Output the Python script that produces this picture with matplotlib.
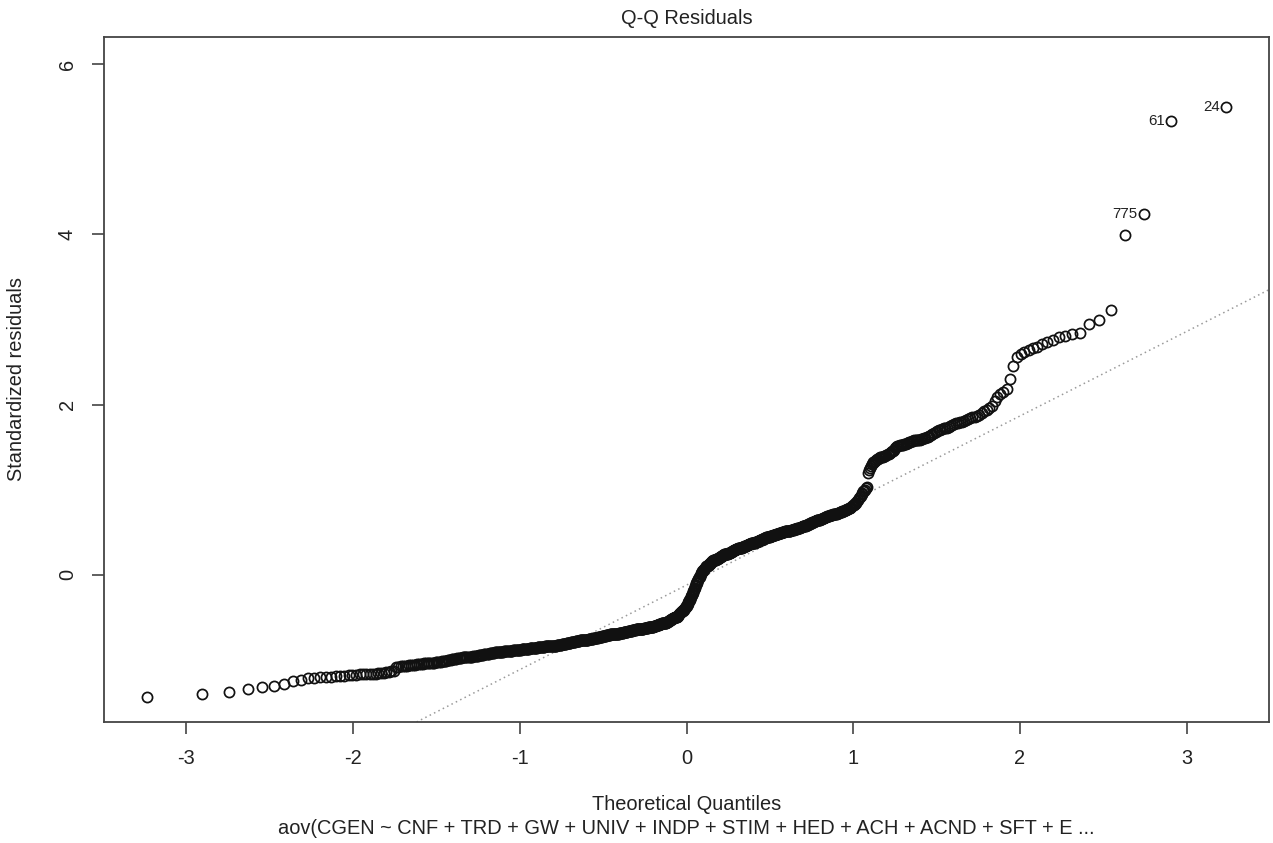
import numpy as np
import matplotlib
matplotlib.use("Agg")
import matplotlib.pyplot as plt
from statistics import NormalDist

plt.rcParams['font.family'] = ['Liberation Sans', 'DejaVu Sans']
plt.rcParams['axes.unicode_minus'] = False

# ---- sorted standardized residuals (lowest to highest) ----
seg_a = [-1.43, -1.40, -1.37, -1.34, -1.32, -1.30, -1.28, -1.25, -1.23]
seg_b = [-1.21, -1.21, -1.20, -1.20, -1.20, -1.19, -1.19, -1.19, -1.18, -1.18, -1.18, -1.17,
         -1.17, -1.17, -1.16, -1.16, -1.16, -1.15, -1.15, -1.15, -1.14, -1.14, -1.13, -1.13]
seg_c = [-1.08, -1.08, -1.07, -1.07, -1.07, -1.07, -1.06, -1.06, -1.06, -1.06, -1.05, -1.05,
         -1.05, -1.05, -1.04, -1.04, -1.04, -1.03, -1.03, -1.03, -1.03, -1.02, -1.02, -1.02,
         -1.02, -1.01, -1.01, -1.01, -1.01, -1.00, -1.00, -1.00, -0.99, -0.99, -0.99, -0.99,
         -0.98, -0.98, -0.98, -0.98, -0.97, -0.97, -0.97, -0.97, -0.96, -0.96, -0.96]
seg_d = [-0.96, -0.96, -0.95, -0.95, -0.95, -0.95, -0.95, -0.94, -0.94, -0.94, -0.94, -0.94,
         -0.93, -0.93, -0.93, -0.93, -0.93, -0.92, -0.92, -0.92, -0.92, -0.92, -0.91, -0.91,
         -0.91, -0.91, -0.91, -0.90, -0.90, -0.90, -0.90, -0.90]
seg_e = [-0.89, -0.89, -0.89, -0.89, -0.89, -0.89, -0.89, -0.89, -0.89, -0.89,
         -0.88, -0.88, -0.88, -0.88, -0.88, -0.88, -0.88, -0.88, -0.88, -0.88,
         -0.87, -0.87, -0.87, -0.87, -0.87, -0.87, -0.87, -0.87, -0.87, -0.87,
         -0.86, -0.86, -0.86, -0.86, -0.86, -0.86, -0.86, -0.86, -0.86, -0.86,
         -0.85, -0.85, -0.85, -0.85, -0.85, -0.85, -0.85, -0.85, -0.85, -0.85,
         -0.84, -0.84, -0.84, -0.84, -0.84, -0.84, -0.84, -0.84, -0.84, -0.84]
seg_f = [-0.83, -0.83, -0.83, -0.83, -0.83, -0.83, -0.83,
         -0.82, -0.82, -0.82, -0.82, -0.82, -0.82, -0.82,
         -0.81, -0.81, -0.81, -0.81, -0.81, -0.81, -0.81,
         -0.80, -0.80, -0.80, -0.80, -0.80, -0.80, -0.80,
         -0.79, -0.79, -0.79, -0.79, -0.79, -0.79, -0.79,
         -0.78, -0.78, -0.78, -0.78, -0.78, -0.78, -0.78,
         -0.77, -0.77, -0.77, -0.77, -0.77, -0.77, -0.77,
         -0.76, -0.76, -0.76, -0.76, -0.76, -0.76, -0.76,
         -0.75, -0.75, -0.75, -0.75, -0.75, -0.75, -0.75, -0.75,
         -0.74, -0.74, -0.74, -0.74, -0.74, -0.74, -0.74, -0.74,
         -0.73, -0.73, -0.73, -0.73, -0.73, -0.73, -0.73]
seg_g = [-0.72, -0.72, -0.72, -0.72, -0.72, -0.72, -0.72,
         -0.71, -0.71, -0.71, -0.71, -0.71, -0.71, -0.71,
         -0.70, -0.70, -0.70, -0.70, -0.70, -0.70, -0.70, -0.70,
         -0.69, -0.69, -0.69, -0.69, -0.69, -0.69, -0.69, -0.69,
         -0.68, -0.68, -0.68, -0.68, -0.68, -0.68, -0.68, -0.68,
         -0.67, -0.67, -0.67, -0.67, -0.67, -0.67, -0.67, -0.67,
         -0.66, -0.66, -0.66, -0.66, -0.66, -0.66, -0.66, -0.66,
         -0.65, -0.65, -0.65, -0.65, -0.65, -0.65, -0.65,
         -0.64, -0.64, -0.64, -0.64, -0.64, -0.64, -0.64,
         -0.63, -0.63, -0.63, -0.63, -0.63, -0.63, -0.63, -0.63,
         -0.62, -0.62, -0.62, -0.62, -0.62, -0.62, -0.62, -0.62,
         -0.61, -0.61, -0.61, -0.61, -0.61, -0.61, -0.61]
seg_h = [-0.61, -0.61, -0.61, -0.61, -0.60, -0.60, -0.60, -0.60, -0.60,
         -0.59, -0.59, -0.59, -0.59, -0.59, -0.58, -0.58, -0.58, -0.58, -0.58,
         -0.57, -0.57, -0.57, -0.57, -0.57, -0.56, -0.56, -0.56, -0.56, -0.56,
         -0.55, -0.55, -0.55, -0.54, -0.54, -0.54, -0.53, -0.53, -0.53,
         -0.52, -0.52, -0.52, -0.51, -0.51, -0.51, -0.50, -0.50, -0.50,
         -0.49, -0.49, -0.49, -0.48, -0.48]
seg_i = [-0.46, -0.46, -0.45, -0.45, -0.44, -0.44, -0.43, -0.42, -0.42, -0.41, -0.41, -0.40,
         -0.39, -0.39, -0.38, -0.37, -0.36, -0.35, -0.34, -0.32, -0.31, -0.30, -0.29, -0.28,
         -0.26, -0.25, -0.24, -0.22, -0.21, -0.19, -0.18, -0.16, -0.15, -0.13, -0.12, -0.10,
         -0.09, -0.07, -0.06, -0.05, -0.03, -0.02, -0.01, 0.01, 0.02, 0.03]
seg_j = [0.04, 0.05, 0.06, 0.06, 0.07, 0.08, 0.08, 0.09, 0.10, 0.10, 0.11, 0.11, 0.12, 0.12,
         0.13, 0.13, 0.14, 0.14, 0.15,
         0.16, 0.16, 0.16, 0.17, 0.17, 0.17, 0.18, 0.18, 0.18, 0.19, 0.19, 0.19,
         0.20, 0.20, 0.20, 0.21, 0.21, 0.21, 0.22, 0.22, 0.22, 0.23, 0.23, 0.23,
         0.24, 0.24, 0.24, 0.24, 0.25, 0.25, 0.25, 0.25, 0.26, 0.26, 0.26, 0.26,
         0.27, 0.27, 0.27, 0.28, 0.28, 0.28]
seg_k = [0.29, 0.29, 0.29, 0.29, 0.30, 0.30, 0.30, 0.30, 0.31, 0.31, 0.31, 0.31,
         0.32, 0.32, 0.32, 0.32, 0.33, 0.33, 0.33, 0.33, 0.34, 0.34, 0.34, 0.34,
         0.35, 0.35, 0.35, 0.35, 0.36, 0.36, 0.36, 0.36, 0.37, 0.37, 0.37, 0.37,
         0.38, 0.38, 0.38, 0.38, 0.39, 0.39, 0.39, 0.39, 0.40, 0.40, 0.40, 0.40,
         0.41, 0.41, 0.41, 0.41, 0.42, 0.42, 0.42, 0.42, 0.43, 0.43, 0.43, 0.44, 0.44]
seg_l = [0.45, 0.45, 0.45, 0.45, 0.45, 0.46, 0.46, 0.46, 0.46, 0.46,
         0.47, 0.47, 0.47, 0.47, 0.47, 0.48, 0.48, 0.48, 0.48, 0.48,
         0.49, 0.49, 0.49, 0.49, 0.49, 0.50, 0.50, 0.50, 0.50, 0.50,
         0.51, 0.51, 0.51, 0.51, 0.51, 0.52, 0.52, 0.52, 0.52, 0.52,
         0.53, 0.53, 0.53, 0.53, 0.53, 0.54, 0.54, 0.54, 0.54, 0.54,
         0.55, 0.55, 0.55, 0.55, 0.55]
seg_m = [0.56, 0.56, 0.56, 0.57, 0.57, 0.57, 0.58, 0.58, 0.58, 0.59, 0.59, 0.59,
         0.60, 0.60, 0.60, 0.61, 0.61, 0.61, 0.62, 0.62, 0.62, 0.63, 0.63, 0.63,
         0.64, 0.64, 0.64, 0.65, 0.65, 0.65, 0.66, 0.66, 0.66, 0.67, 0.67, 0.67,
         0.68, 0.68, 0.68, 0.69, 0.69, 0.69, 0.69, 0.70, 0.70, 0.70, 0.70]
seg_n = [0.71, 0.71, 0.71, 0.72, 0.72, 0.72, 0.73, 0.73, 0.73, 0.74, 0.74, 0.74,
         0.75, 0.75, 0.75, 0.76, 0.76, 0.76, 0.77, 0.77, 0.78, 0.78,
         0.79, 0.80, 0.81, 0.82, 0.82, 0.83, 0.84, 0.85, 0.87, 0.88, 0.90, 0.92, 0.93, 0.95,
         0.96, 0.98, 0.99, 1.00, 1.02, 1.03]
seg_o = [1.20, 1.23, 1.26, 1.28, 1.30, 1.31, 1.32, 1.33, 1.34, 1.35,
         1.36, 1.36, 1.37, 1.38, 1.38, 1.39, 1.39, 1.40, 1.40, 1.41, 1.42, 1.42, 1.43,
         1.44, 1.45, 1.46, 1.47, 1.49, 1.50,
         1.51, 1.51, 1.52, 1.52, 1.53, 1.53, 1.54, 1.54, 1.55, 1.55, 1.56, 1.56, 1.57, 1.57,
         1.58, 1.58, 1.58, 1.59, 1.59, 1.60, 1.60, 1.61, 1.61, 1.62, 1.62,
         1.63, 1.64, 1.65, 1.67, 1.68, 1.69, 1.70, 1.70, 1.71, 1.72, 1.73, 1.73, 1.74,
         1.75, 1.76, 1.77, 1.78, 1.78, 1.79, 1.80, 1.81, 1.82,
         1.83, 1.84, 1.85, 1.86, 1.87, 1.88, 1.90]
seg_tail = [1.92, 1.94, 1.96, 1.98, 2.04, 2.09, 2.12, 2.15, 2.18, 2.30, 2.45, 2.56, 2.60,
            2.62, 2.64, 2.66, 2.68, 2.71, 2.73, 2.76, 2.79, 2.81, 2.83, 2.84, 2.95, 2.99,
            3.11, 3.99, 4.24, 5.33, 5.50]

# labels of the three most extreme residuals (ordered from largest |residual| down)
extreme_labels = ["24", "61", "775"]

title_text = "Q-Q Residuals"
xlabel_text = "Theoretical Quantiles"
ylabel_text = "Standardized residuals"
sub_text = "aov(CGEN ~ CNF + TRD + GW + UNIV + INDP + STIM + HED + ACH + ACND + SFT + E ..."
x_ticks = [-3, -2, -1, 0, 1, 2, 3]
y_ticks = [0, 2, 4, 6]

residuals = np.array(seg_a + seg_b + seg_c + seg_d + seg_e + seg_f + seg_g + seg_h +
                     seg_i + seg_j + seg_k + seg_l + seg_m + seg_n + seg_o + seg_tail)
n = len(residuals)
nd = NormalDist()
theo = np.array([nd.inv_cdf((i - 0.5) / n) for i in range(1, n + 1)])

W, H = 1273, 843
fig = plt.figure(figsize=(W / 100, H / 100), dpi=100)
ax = fig.add_axes([104 / W, 1 - 722 / H, (1269 - 104) / W, (722 - 37) / H])

# R-style limits
xr = [theo.min(), theo.max()]
dx = xr[1] - xr[0]
ax.set_xlim(xr[0] - 0.04 * dx, xr[1] + 0.04 * dx)
yr = [residuals.min(), residuals.max()]
yr[1] += 0.075 * (yr[1] - yr[0])
dy = yr[1] - yr[0]
ax.set_ylim(yr[0] - 0.04 * dy, yr[1] + 0.04 * dy)

ax.plot(theo, residuals, 'o', mfc='none', mec='#111111', ms=7.3, mew=1.25, zorder=3)

# qqline through quartiles
yq = np.quantile(residuals, [0.25, 0.75])
xq = np.array([nd.inv_cdf(0.25), nd.inv_cdf(0.75)])
slope = (yq[1] - yq[0]) / (xq[1] - xq[0])
icpt = yq[0] - slope * xq[0]
ax.axline((0, icpt), slope=slope, color='#9a9a9a', lw=1.1, ls=(0, (1, 2.2)), zorder=2)

# identify extreme points
order = np.argsort(-np.abs(residuals))[:3]
for lab, idx in zip(extreme_labels, order):
    ax.annotate(lab, (theo[idx], residuals[idx]), xytext=(-4.5, 0), textcoords='offset points',
                ha='right', va='center', fontsize=10.8, color='#222222')

ax.set_xticks(x_ticks)
ax.set_yticks(y_ticks)
ax.set_xticklabels([str(t) for t in x_ticks])
ax.set_yticklabels([str(t) for t in y_ticks])
for s in ax.spines.values():
    s.set_color('#444444')
    s.set_linewidth(1.3)
ax.tick_params(axis='both', direction='out', length=8.5, width=1.2, color='#444444',
               labelsize=14.4, labelcolor='#222222')
ax.tick_params(axis='x', pad=11)
ax.tick_params(axis='y', pad=11)
for lab in ax.get_yticklabels():
    lab.set_rotation(90)
    lab.set_va('center')

cx = (104 + 1269) / 2 / W
fig.text(cx, 1 - 19 / H, title_text, ha='center', va='center', fontsize=14.4, color='#222222')
fig.text(cx, 1 - 805 / H, xlabel_text, ha='center', va='center', fontsize=14.4, color='#222222')
fig.text(cx, 1 - 828 / H, sub_text, ha='center', va='center', fontsize=14.4, color='#222222')
fig.text(17 / W, 1 - 379.5 / H, ylabel_text, ha='center', va='center', rotation=90,
         fontsize=14.4, color='#222222')

fig.savefig('out.png', dpi=100, facecolor='white')
